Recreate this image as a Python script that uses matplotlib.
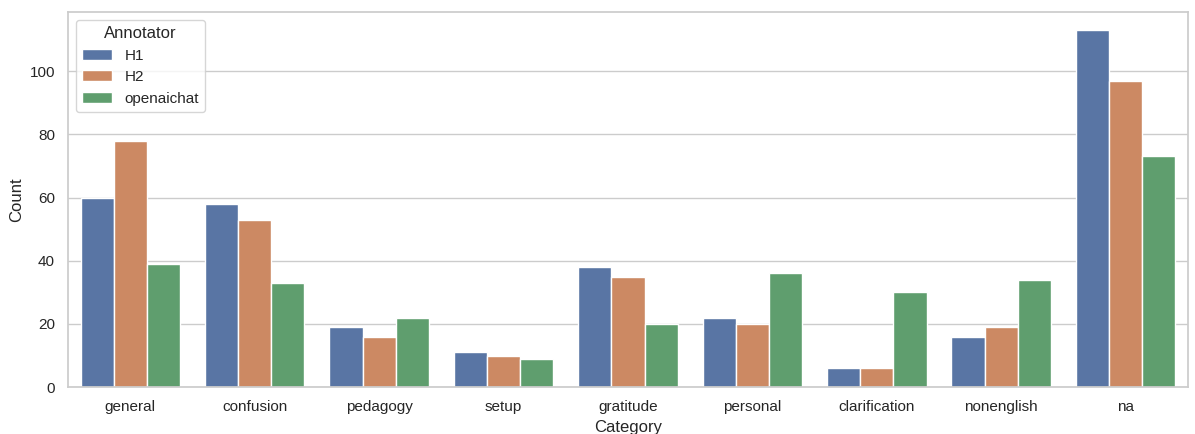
import numpy as np
import pandas as pd
import seaborn as sns
import matplotlib
matplotlib.use("Agg")
import matplotlib.pyplot as plt

categories = ["general", "confusion", "pedagogy", "setup", "gratitude",
              "personal", "clarification", "nonenglish", "na"]
annotators = ["H1", "H2", "openaichat"]
h1 = [60, 58, 19, 11, 38, 22, 6, 16, 113]
h2 = [78, 53, 16, 10, 35, 20, 6, 19, 97]
openaichat = [39, 33, 22, 9, 20, 36, 30, 34, 73]

rows = []
for name, vals in zip(annotators, [h1, h2, openaichat]):
    for c, v in zip(categories, vals):
        rows.append({"Category": c, "Annotator": name, "Count": v})
df = pd.DataFrame(rows)

sns.set_theme(style="whitegrid")
plt.rcParams['font.family'] = ['Liberation Sans', 'DejaVu Sans']

fig, ax = plt.subplots(figsize=(11.95, 4.34), dpi=100)
sns.barplot(data=df, x="Category", y="Count", hue="Annotator",
            order=categories, hue_order=annotators, ax=ax)
sns.move_legend(ax, "upper left", title="Annotator")
fig.subplots_adjust(left=0.057, right=0.994, top=0.972, bottom=0.108)
plt.savefig("out.png", dpi=100)
